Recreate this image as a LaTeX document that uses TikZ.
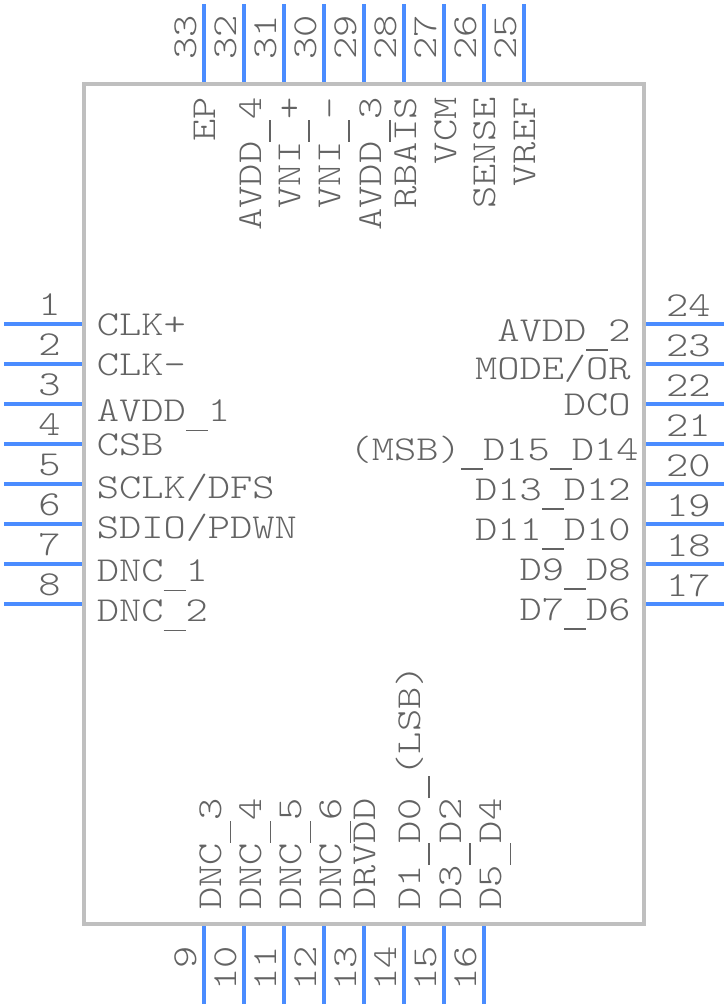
\documentclass[tikz,border=0pt]{standalone}
\usepackage{fontspec}
\newfontfamily\pinfont[FakeStretch=1.21]{Latin Modern Mono Light}
\definecolor{pinblue}{HTML}{4A8CFF}
\definecolor{bodygray}{HTML}{BFBFBF}
\definecolor{textgray}{HTML}{636363}
\newcommand{\pinus}{\makebox[15.79pt][c]{\rule[-6.9pt]{15.6pt}{1.1pt}}}
\tikzset{
	pinline/.style={draw=pinblue,line width=0.1cm},
	pintext/.style={text=textgray,inner sep=0pt,font=\pinfont\fontsize{24.9pt}{26pt}\selectfont},
}

\begin{document}
\begin{tikzpicture}[x=0.025cm,y=-0.025cm]
			\useasboundingbox (0,0) rectangle (728,1008);
			%Body
			\draw[draw=bodygray,line width=0.1cm] (84,84) rectangle (644,924);
			%Left pins
			\foreach \n/\y in {1/324,2/364,3/404,4/444,5/484,6/524,7/564,8/604} {
				\draw[pinline] (4,\y) -- (82,\y);
				\node[pintext,anchor=base east] (num\n) at (61,\y-9) {\n};
			}
			%Right pins
			\foreach \n/\y in {24/324,23/364,22/404,21/444,20/484,19/524,18/564,17/604} {
				\draw[pinline] (646,\y) -- (724,\y);
				\node[pintext,anchor=base east] (num\n) at (711,\y-8) {\n};
			}
			%Top pins
			\foreach \n/\x in {33/204,32/244,31/284,30/324,29/364,28/404,27/444,26/484,25/524} {
				\draw[pinline] (\x,4) -- (\x,82);
				\node[pintext,rotate=90,anchor=base east] (num\n) at (\x-8,15) {\n};
			}
			%Bottom pins
			\foreach \n/\x in {9/204,10/244,11/284,12/324,13/364,14/404,15/444,16/484} {
				\draw[pinline] (\x,926) -- (\x,1004);
				\node[pintext,rotate=90,anchor=base east] (num\n) at (\x-8,946) {\n};
			}
			%Left names
			\foreach \m/\t/\y in {clk/CLK+/335,clkn/CLK-/375,avddA/AVDD\pinus 1/421.5,csb/CSB/455.5,sclk/SCLK\slash DFS/498,sdio/SDIO\slash PDWN/538,dncA/DNC\pinus 1/581.5,dncB/DNC\pinus 2/621.5}
				\node[pintext,anchor=base west] (\m) at (96.5,\y) {\t};
			%Right names
			\foreach \m/\t/\x/\y in {avddB/AVDD\pinus 2/631/341,mode/MODE\slash OR/631/379,dco/DCO/631/415,dA/(MSB)\pinus D15\pinus D14/639/460,dB/D13\pinus D12/631/500,dC/D11\pinus D10/631/540,dD/D9\pinus D8/631/580,dE/D7\pinus D6/631/620}
				\node[pintext,anchor=base east] (\m) at (\x,\y) {\t};
			%Top names
			\foreach \m/\t/\x in {ep/EP/215,avddD/AVDD\pinus 4/261,vnip/VNI\pinus +/300,vnin/VNI\pinus -/340,avddC/AVDD\pinus 3/381,rbais/RBAIS/416,vcm/VCM/456,sense/SENSE/495,vref/VREF/535}
				\node[pintext,rotate=90,anchor=base east] (\m) at (\x,97) {\t};
			%Bottom names
			\foreach \m/\t/\x in {dncC/DNC\pinus 3/221.5,dncD/DNC\pinus 4/261.5,dncE/DNC\pinus 5/301.5,dncF/DNC\pinus 6/341.5,drvdd/DRVDD/375,dF/D1\pinus D0\pinus (LSB)/420,dG/D3\pinus D2/461,dH/D5\pinus D4/501.5}
				\node[pintext,rotate=90,anchor=base west] (\m) at (\x,910) {\t};
		\end{tikzpicture}
\end{document}
